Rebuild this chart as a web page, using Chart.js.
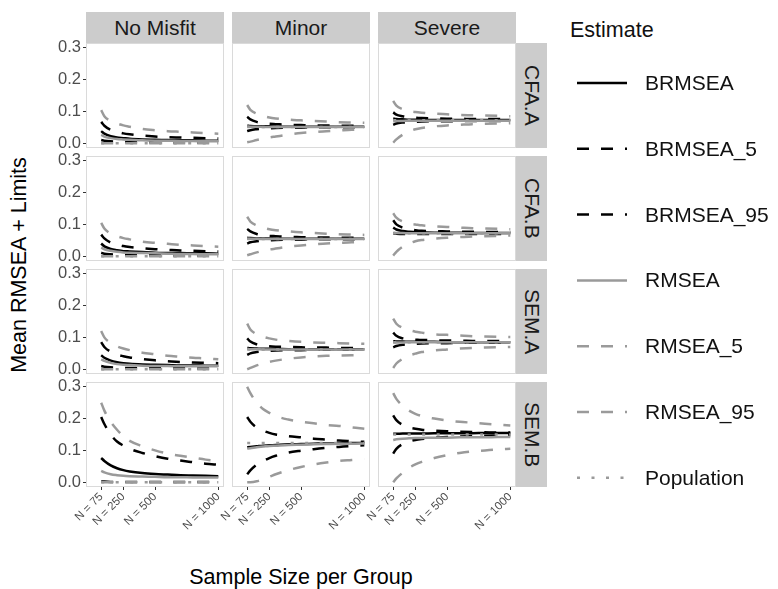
<!DOCTYPE html>
<html>
<head>
<meta charset="utf-8">
<script src="https://cdn.jsdelivr.net/npm/chart.js@4.4.1/dist/chart.umd.min.js"></script>
<style>
  body { margin: 0; width: 778px; height: 589px; background: #fff; position: relative; overflow: hidden;
         font-family: "Liberation Sans", Arial, sans-serif; }
  .panel { position: absolute; box-sizing: border-box; border: 1px solid #dadada; background: #fff; }
  .strip { position: absolute; background: #cccccc; color: #1a1a1a; font-size: 21px;
           display: flex; align-items: center; justify-content: center; white-space: nowrap; }
  .strip.row span { writing-mode: vertical-rl; }
  .title { position: absolute; font-size: 21.5px; color: #000; white-space: nowrap; }
  .leg { position: absolute; font-size: 21px; color: #111; white-space: nowrap; line-height: 24px; }
  canvas { position: absolute; }
</style>
</head>
<body>
<script>
// x positions (sample size per group)
const Ns = [75, 100, 150, 200, 250, 300, 400, 500, 600, 700, 800, 900, 1000];
const xTicks = [75, 250, 500, 1000];
const yTicks = [0, 0.1, 0.2, 0.3];

const misfit = ['No Misfit', 'Minor', 'Severe'];
const models = ['CFA.A', 'CFA.B', 'SEM.A', 'SEM.B'];
const series = ['BRMSEA', 'BRMSEA_5', 'BRMSEA_95', 'RMSEA', 'RMSEA_5', 'RMSEA_95', 'Population'];

const zero = [0, 0, 0, 0, 0, 0, 0, 0, 0, 0, 0, 0, 0];
const flat = v => Ns.map(() => v);

// each panel: [BRMSEA, BRMSEA_5, BRMSEA_95, RMSEA, RMSEA_5, RMSEA_95, Population]
const cfaA_none = [
  [0.038, 0.030, 0.022, 0.018, 0.016, 0.014, 0.012, 0.011, 0.010, 0.009, 0.009, 0.008, 0.008],
  [0.010, 0.008, 0.006, 0.005, 0.004, 0.004, 0.003, 0.003, 0.003, 0.002, 0.002, 0.002, 0.002],
  [0.067, 0.055, 0.042, 0.036, 0.031, 0.028, 0.024, 0.021, 0.019, 0.018, 0.017, 0.016, 0.015],
  [0.026, 0.021, 0.016, 0.013, 0.012, 0.011, 0.009, 0.008, 0.008, 0.007, 0.007, 0.006, 0.006],
  zero,
  [0.104, 0.085, 0.070, 0.062, 0.056, 0.052, 0.045, 0.041, 0.038, 0.036, 0.034, 0.032, 0.030],
  zero
];
const cfaA_minor = [
  [0.055, 0.054, 0.053, 0.053, 0.053, 0.052, 0.052, 0.052, 0.052, 0.052, 0.052, 0.052, 0.052],
  [0.038, 0.041, 0.044, 0.046, 0.047, 0.048, 0.049, 0.049, 0.050, 0.050, 0.050, 0.050, 0.050],
  [0.083, 0.075, 0.067, 0.063, 0.061, 0.060, 0.058, 0.057, 0.056, 0.056, 0.055, 0.055, 0.055],
  [0.053, 0.052, 0.052, 0.051, 0.051, 0.051, 0.051, 0.051, 0.051, 0.051, 0.051, 0.051, 0.051],
  [0.003, 0.005, 0.010, 0.014, 0.018, 0.021, 0.027, 0.032, 0.035, 0.038, 0.040, 0.042, 0.043],
  [0.120, 0.105, 0.093, 0.086, 0.081, 0.078, 0.074, 0.072, 0.070, 0.068, 0.066, 0.065, 0.064],
  flat(0.051)
];
const cfaA_severe = [
  [0.078, 0.076, 0.075, 0.074, 0.074, 0.073, 0.073, 0.073, 0.073, 0.073, 0.073, 0.073, 0.073],
  [0.058, 0.062, 0.065, 0.066, 0.067, 0.068, 0.069, 0.069, 0.070, 0.070, 0.070, 0.070, 0.070],
  [0.097, 0.090, 0.085, 0.082, 0.080, 0.079, 0.078, 0.077, 0.077, 0.076, 0.076, 0.076, 0.076],
  [0.069, 0.070, 0.070, 0.071, 0.071, 0.071, 0.071, 0.071, 0.071, 0.071, 0.071, 0.071, 0.071],
  [0.002, 0.012, 0.027, 0.037, 0.044, 0.048, 0.053, 0.056, 0.058, 0.060, 0.061, 0.062, 0.063],
  [0.133, 0.118, 0.107, 0.101, 0.098, 0.096, 0.093, 0.091, 0.089, 0.088, 0.087, 0.086, 0.085],
  flat(0.072)
];
const cfaB_none = [
  [0.040, 0.031, 0.023, 0.019, 0.016, 0.015, 0.013, 0.011, 0.010, 0.010, 0.009, 0.009, 0.008],
  [0.011, 0.008, 0.006, 0.005, 0.004, 0.004, 0.003, 0.003, 0.003, 0.002, 0.002, 0.002, 0.002],
  [0.068, 0.056, 0.043, 0.037, 0.032, 0.029, 0.025, 0.022, 0.020, 0.018, 0.017, 0.016, 0.015],
  [0.027, 0.022, 0.017, 0.014, 0.012, 0.011, 0.010, 0.009, 0.008, 0.007, 0.007, 0.006, 0.006],
  zero,
  [0.105, 0.087, 0.071, 0.063, 0.057, 0.053, 0.046, 0.042, 0.039, 0.036, 0.034, 0.032, 0.030],
  zero
];
const cfaB_minor = [
  [0.058, 0.057, 0.056, 0.056, 0.056, 0.055, 0.055, 0.055, 0.055, 0.055, 0.055, 0.055, 0.055],
  [0.040, 0.044, 0.047, 0.049, 0.050, 0.051, 0.052, 0.052, 0.053, 0.053, 0.053, 0.053, 0.053],
  [0.086, 0.078, 0.070, 0.066, 0.064, 0.063, 0.061, 0.060, 0.059, 0.059, 0.058, 0.058, 0.058],
  [0.055, 0.055, 0.055, 0.054, 0.054, 0.054, 0.054, 0.054, 0.054, 0.054, 0.054, 0.054, 0.054],
  [0.003, 0.006, 0.012, 0.017, 0.021, 0.024, 0.030, 0.034, 0.037, 0.040, 0.042, 0.044, 0.045],
  [0.124, 0.109, 0.097, 0.090, 0.085, 0.082, 0.078, 0.075, 0.073, 0.071, 0.069, 0.068, 0.067],
  flat(0.054)
];
const cfaB_severe = [
  [0.090, 0.084, 0.079, 0.077, 0.076, 0.075, 0.074, 0.074, 0.074, 0.073, 0.073, 0.073, 0.073],
  [0.072, 0.071, 0.070, 0.070, 0.070, 0.070, 0.070, 0.070, 0.070, 0.070, 0.070, 0.070, 0.070],
  [0.113, 0.100, 0.090, 0.085, 0.082, 0.080, 0.079, 0.078, 0.077, 0.077, 0.076, 0.076, 0.076],
  [0.074, 0.073, 0.073, 0.072, 0.072, 0.072, 0.072, 0.072, 0.072, 0.072, 0.072, 0.072, 0.072],
  [0.002, 0.014, 0.030, 0.040, 0.047, 0.051, 0.055, 0.058, 0.060, 0.062, 0.063, 0.064, 0.065],
  [0.135, 0.121, 0.109, 0.103, 0.100, 0.097, 0.094, 0.092, 0.090, 0.088, 0.087, 0.086, 0.085],
  flat(0.072)
];
const semA_none = [
  [0.044, 0.036, 0.027, 0.022, 0.019, 0.017, 0.015, 0.014, 0.013, 0.012, 0.012, 0.011, 0.011],
  [0.010, 0.008, 0.006, 0.005, 0.004, 0.004, 0.003, 0.003, 0.003, 0.003, 0.002, 0.002, 0.002],
  [0.085, 0.070, 0.055, 0.046, 0.041, 0.037, 0.032, 0.028, 0.025, 0.023, 0.021, 0.020, 0.019],
  [0.031, 0.026, 0.020, 0.016, 0.014, 0.013, 0.011, 0.010, 0.010, 0.009, 0.009, 0.009, 0.009],
  zero,
  [0.120, 0.100, 0.083, 0.072, 0.065, 0.060, 0.052, 0.047, 0.042, 0.039, 0.036, 0.034, 0.031],
  zero
];
const semA_minor = [
  [0.067, 0.066, 0.065, 0.064, 0.064, 0.064, 0.063, 0.063, 0.063, 0.063, 0.063, 0.063, 0.063],
  [0.045, 0.050, 0.054, 0.056, 0.058, 0.059, 0.060, 0.060, 0.061, 0.061, 0.061, 0.061, 0.061],
  [0.097, 0.087, 0.078, 0.074, 0.072, 0.071, 0.070, 0.069, 0.068, 0.068, 0.067, 0.067, 0.067],
  [0.064, 0.063, 0.063, 0.062, 0.062, 0.062, 0.062, 0.062, 0.062, 0.062, 0.062, 0.062, 0.062],
  [0.000, 0.004, 0.012, 0.018, 0.023, 0.027, 0.033, 0.037, 0.040, 0.042, 0.043, 0.044, 0.045],
  [0.143, 0.125, 0.110, 0.102, 0.097, 0.093, 0.089, 0.086, 0.084, 0.083, 0.082, 0.081, 0.080],
  flat(0.062)
];
const semA_severe = [
  [0.088, 0.087, 0.087, 0.086, 0.086, 0.086, 0.086, 0.085, 0.085, 0.085, 0.085, 0.085, 0.085],
  [0.069, 0.073, 0.077, 0.079, 0.080, 0.081, 0.082, 0.082, 0.083, 0.083, 0.083, 0.083, 0.083],
  [0.115, 0.105, 0.097, 0.094, 0.093, 0.092, 0.091, 0.090, 0.090, 0.089, 0.089, 0.089, 0.088],
  [0.084, 0.084, 0.084, 0.085, 0.085, 0.085, 0.085, 0.085, 0.085, 0.085, 0.085, 0.085, 0.085],
  [0.004, 0.018, 0.033, 0.043, 0.049, 0.054, 0.059, 0.062, 0.065, 0.067, 0.068, 0.069, 0.070],
  [0.159, 0.143, 0.130, 0.123, 0.118, 0.115, 0.110, 0.108, 0.106, 0.104, 0.103, 0.102, 0.101],
  flat(0.085)
];
const semB_none = [
  [0.076, 0.067, 0.053, 0.044, 0.038, 0.034, 0.029, 0.026, 0.024, 0.022, 0.021, 0.020, 0.019],
  [0.002, 0.002, 0.001, 0.001, 0.001, 0.001, 0.001, 0.001, 0.001, 0.001, 0.001, 0.001, 0.001],
  [0.205, 0.183, 0.150, 0.128, 0.115, 0.105, 0.092, 0.082, 0.074, 0.068, 0.063, 0.058, 0.055],
  [0.036, 0.031, 0.025, 0.022, 0.020, 0.019, 0.018, 0.017, 0.016, 0.016, 0.015, 0.015, 0.015],
  zero,
  [0.250, 0.225, 0.190, 0.165, 0.145, 0.130, 0.113, 0.100, 0.090, 0.083, 0.077, 0.071, 0.066],
  zero
];
const semB_minor = [
  [0.110, 0.111, 0.113, 0.115, 0.116, 0.117, 0.119, 0.120, 0.121, 0.122, 0.122, 0.123, 0.123],
  [0.025, 0.037, 0.055, 0.066, 0.076, 0.083, 0.093, 0.099, 0.104, 0.108, 0.111, 0.114, 0.116],
  [0.205, 0.190, 0.172, 0.162, 0.155, 0.150, 0.145, 0.141, 0.137, 0.134, 0.131, 0.129, 0.127],
  [0.106, 0.107, 0.110, 0.112, 0.114, 0.115, 0.117, 0.118, 0.119, 0.120, 0.121, 0.121, 0.122],
  [0.000, 0.000, 0.003, 0.010, 0.017, 0.025, 0.038, 0.048, 0.056, 0.062, 0.067, 0.070, 0.073],
  [0.300, 0.280, 0.250, 0.230, 0.218, 0.208, 0.197, 0.190, 0.185, 0.180, 0.177, 0.172, 0.168],
  flat(0.123)
];
const semB_severe = [
  [0.152, 0.152, 0.153, 0.153, 0.153, 0.153, 0.154, 0.154, 0.154, 0.154, 0.155, 0.155, 0.155],
  [0.090, 0.105, 0.120, 0.128, 0.133, 0.136, 0.140, 0.142, 0.144, 0.145, 0.146, 0.147, 0.148],
  [0.210, 0.195, 0.180, 0.172, 0.168, 0.165, 0.162, 0.160, 0.159, 0.158, 0.157, 0.156, 0.156],
  [0.133, 0.135, 0.137, 0.138, 0.139, 0.139, 0.140, 0.140, 0.141, 0.141, 0.141, 0.142, 0.142],
  [0.000, 0.012, 0.030, 0.045, 0.056, 0.064, 0.076, 0.085, 0.092, 0.097, 0.100, 0.103, 0.105],
  [0.280, 0.262, 0.240, 0.225, 0.215, 0.208, 0.200, 0.194, 0.190, 0.187, 0.184, 0.181, 0.178],
  flat(0.150)
];

const grid = [
  [cfaA_none, cfaA_minor, cfaA_severe],
  [cfaB_none, cfaB_minor, cfaB_severe],
  [semA_none, semA_minor, semA_severe],
  [semB_none, semB_minor, semB_severe]
];

// line styles per series
const BLACK = '#000000', GREY = '#9a9a9a';
const DASH = [12, 12], DOT = [3, 11.5];
const styles = [
  { color: BLACK, dash: [] },
  { color: BLACK, dash: DASH },
  { color: BLACK, dash: DASH },
  { color: GREY, dash: [] },
  { color: GREY, dash: DASH },
  { color: GREY, dash: DASH },
  { color: GREY, dash: DOT }
];

// layout
const colLeft = [86, 232, 378], panelW = 138;
const rowTop = [43, 156, 269, 382], panelH = 105;
const padL = 50, padV = 12, xAxisH = 70;
const FONT = '"Liberation Sans", Arial, sans-serif';

function el(cls, css, html) {
  const d = document.createElement('div');
  d.className = cls;
  Object.assign(d.style, css);
  if (html != null) d.innerHTML = html;
  document.body.appendChild(d);
  return d;
}

// strips
misfit.forEach((m, c) => {
  el('strip', { left: colLeft[c] + 'px', top: '12px', width: panelW + 'px', height: '31px' }, m);
});
models.forEach((m, r) => {
  el('strip row', { left: '516px', top: rowTop[r] + 'px', width: '31px', height: panelH + 'px' }, '<span>' + m + '</span>');
});

// panel frames first, canvases on top
grid.forEach((rowPanels, r) => rowPanels.forEach((vals, c) => {
  el('panel', { left: colLeft[c] + 'px', top: rowTop[r] + 'px', width: panelW + 'px', height: panelH + 'px' });
}));

grid.forEach((rowPanels, r) => {
  rowPanels.forEach((vals, c) => {
    const showY = c === 0, showX = r === 3;
    const cv = document.createElement('canvas');
    const w = panelW + padL;
    const h = padV + panelH + (showX ? xAxisH : padV);
    cv.width = w; cv.height = h;
    cv.style.left = (colLeft[c] - padL) + 'px';
    cv.style.top = (rowTop[r] - padV) + 'px';
    cv.style.width = w + 'px'; cv.style.height = h + 'px';
    document.body.appendChild(cv);

    new Chart(cv, {
      type: 'line',
      data: {
        datasets: series.map((name, i) => ({
          label: name,
          data: Ns.map((n, j) => ({ x: n, y: vals[i][j] })),
          borderColor: styles[i].color,
          borderDash: styles[i].dash,
          borderWidth: 2.5,
          pointRadius: 0,
          pointHoverRadius: 0,
          fill: false,
          cubicInterpolationMode: 'monotone',
          order: series.length - i
        }))
      },
      options: {
        responsive: false,
        animation: false,
        devicePixelRatio: 1,
        events: [],
        layout: {
          autoPadding: false,
          padding: { left: showY ? 0 : padL, top: padV, right: 0, bottom: showX ? 0 : padV }
        },
        plugins: { legend: { display: false }, tooltip: { enabled: false } },
        scales: {
          x: {
            type: 'linear', min: -45, max: 1045, display: showX,
            afterBuildTicks: s => { s.ticks = xTicks.map(v => ({ value: v })); },
            afterFit: s => {
              if (showX) s.height = xAxisH;
              s.paddingLeft = 0; s.paddingRight = 0;
            },
            ticks: {
              autoSkip: false, minRotation: 45, maxRotation: 45, padding: 0,
              color: '#4d4d4d', font: { family: FONT, size: 11.5 },
              callback: v => 'N = ' + v
            },
            grid: { drawOnChartArea: false, tickLength: 3, color: '#333333' },
            border: { display: false }
          },
          y: {
            type: 'linear', min: -0.015, max: 0.315, display: showY,
            afterBuildTicks: s => { s.ticks = yTicks.map(v => ({ value: v })); },
            afterFit: s => {
              if (showY) s.width = padL;
              s.paddingTop = 0; s.paddingBottom = 0;
            },
            ticks: {
              padding: 2, color: '#4d4d4d', font: { family: FONT, size: 16.5 },
              callback: v => v.toFixed(1)
            },
            grid: { drawOnChartArea: false, tickLength: 3, color: '#333333' },
            border: { display: false }
          }
        }
      }
    });
  });
});

// axis titles
el('title', { left: '19px', top: '265px', transform: 'translate(-50%, -50%) rotate(-90deg)' }, 'Mean RMSEA + Limits');
el('title', { left: '301px', top: '577px', transform: 'translate(-50%, -50%)' }, 'Sample Size per Group');

// legend
el('leg', { left: '570px', top: '18px', fontSize: '21.5px' }, 'Estimate');
const svgNS = 'http://www.w3.org/2000/svg';
const svg = document.createElementNS(svgNS, 'svg');
svg.setAttribute('width', '778'); svg.setAttribute('height', '589');
svg.style.position = 'absolute'; svg.style.left = '0'; svg.style.top = '0';
document.body.appendChild(svg);
series.forEach((name, i) => {
  const y = 83 + i * 65.8;
  const ln = document.createElementNS(svgNS, 'line');
  ln.setAttribute('x1', 577); ln.setAttribute('x2', 627);
  ln.setAttribute('y1', y); ln.setAttribute('y2', y);
  ln.setAttribute('stroke', styles[i].color);
  ln.setAttribute('stroke-width', 2.5);
  if (styles[i].dash.length) ln.setAttribute('stroke-dasharray', styles[i].dash.join(' '));
  svg.appendChild(ln);
  el('leg', { left: '645px', top: (y - 12) + 'px' }, name);
});
</script>
</body>
</html>
